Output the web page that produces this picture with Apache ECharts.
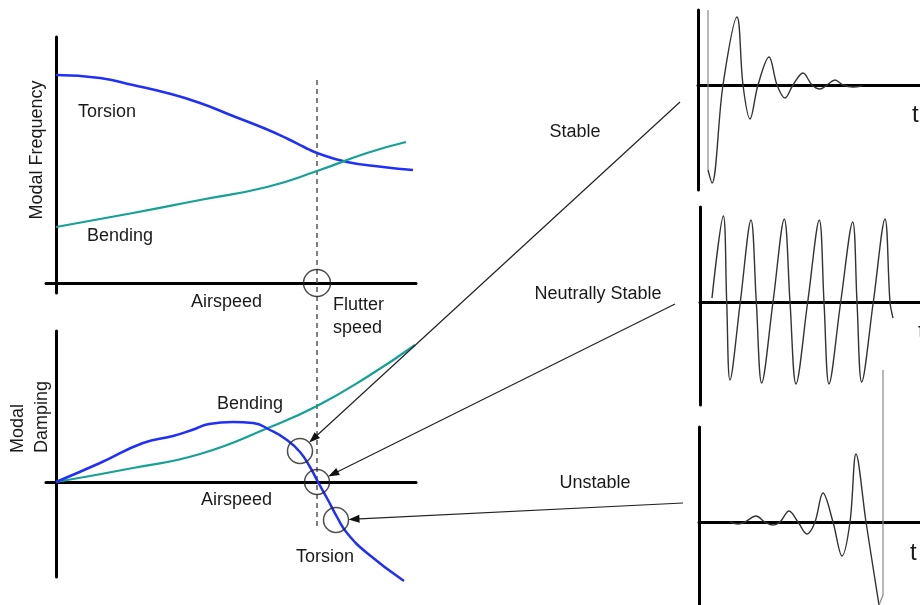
<!DOCTYPE html>
<html><head><meta charset="utf-8">
<script src="https://cdn.jsdelivr.net/npm/echarts@6/dist/echarts.min.js"></script>
<style>html,body{margin:0;padding:0;background:#fff}#c{width:920px;height:605px}</style>
</head><body><div id="c"></div>
<script>
// ---- data (airspeed units / arbitrary response units) ----
const flutterSpeed = 26.1;
const freqTorsion = [[0,20.8],[4.4,20.5],[7.7,19.8],[11.1,19.0],[14.4,18.0],[17.7,16.7],[21.0,15.4],[23.2,14.4],[24.8,13.6],[26.1,13.0],[29.1,12.1],[32.7,11.6],[35.7,11.3]];
const freqBending = [[0,5.6],[7.7,7.0],[14.4,8.3],[21.1,9.6],[26.1,11.2],[31.1,13.0],[35.0,14.1]];
const dampBending = [[0,0],[7.7,1.4],[14.4,2.8],[21.2,5.4],[26.1,7.6],[31.1,10.5],[35.9,13.7]];
const dampTorsion = [[0,0],[4.4,1.9],[8.7,3.9],[11.7,4.6],[13.6,5.2],[15.3,5.8],[17.7,6.0],[19.7,5.9],[21.4,5.2],[23.1,4.2],[24.4,3.0],[25.4,1.5],[26.2,0],[27.2,-1.8],[28.1,-3.5],[29.1,-5.1],[31.1,-7.1],[34.8,-9.9]];
const freqMarker = [[26.1,0]];
const dampMarkers = [[24.4,3.1],[26.1,0],[28.0,-3.8]];
const stableStart = [[1.0,7.5],[1.0,-8.5]];
const stableSignal = [[1.0,-8.5],[1.4,-9.8],[2.5,0],[3.9,6.8],[4.5,0],[5.2,-3.4],[6.0,0],[7.1,2.8],[7.9,0],[8.7,-1.3],[9.5,0],[10.5,1.2],[11.4,0],[12.2,-0.4],[12.9,0],[13.7,0.5],[14.5,0],[15.5,-0.2],[16.4,-0.1]];
const neutralSignal = [[1.2,0.4],[2.33,8.6],[2.67,0],[3.0,-7.8],[4.03,0],[5.1,8.2],[5.63,0],[6.17,-8.1],[7.3,0],[8.43,8.3],[9.0,0],[9.6,-8.2],[10.77,0],[11.93,8.2],[12.4,0],[12.9,-8.2],[14.07,0],[15.27,8.0],[15.7,0],[16.17,-8.0],[17.33,0],[18.5,8.3],[19.0,0],[19.3,-1.6]];
const unstableSignal = [[3.1,0],[3.9,-0.2],[4.6,0],[5.7,0.6],[6.6,0],[7.4,-0.3],[8.1,0],[9.0,1.1],[9.9,0],[10.8,-1.2],[11.6,0],[12.4,2.9],[13.4,0],[14.3,-3.4],[15.1,0],[15.7,6.8],[16.7,0],[18.0,-8.3]];
const unstableEnd = [[18.0,-8.3],[18.4,-7.3],[18.4,15.2]];
const labels = ['Torsion','Bending','Airspeed','Flutter','speed','Modal Frequency','Modal','Damping','Stable','Neutrally Stable','Unstable','t'];

const FONT = '"Liberation Sans", Arial, sans-serif';
const BLUE = '#2030f5', TEAL = '#17a096', INK = '#1a1a1a';
const chart = echarts.init(document.getElementById('c'));

const grids = [
  {left:46, top:37, width:370, height:256},
  {left:46, top:331, width:370, height:246},
  {left:698, top:10, width:222, height:180},
  {left:700, top:207, width:220, height:198},
  {left:699, top:427, width:221, height:178}
];
const xr = [[-1,36],[-1,36],[0,22.2],[0,22],[0,22.1]];
const yr = [[-1,24.6],[-9.5,15.1],[-10.5,7.5],[-10.3,9.5],[-8.3,9.5]];
const axLine = {show:true, onZero:true, lineStyle:{color:'#000', width:3}};
const bare = {axisTick:{show:false}, axisLabel:{show:false}, splitLine:{show:false}};

function line(data, gi, color, width, extra) {
  return Object.assign({type:'line', data, xAxisIndex:gi, yAxisIndex:gi, showSymbol:false, symbol:'none',
    lineStyle:{color, width}, clip:false, silent:true, z:3}, extra||{});
}
function rings(data, gi, size) {
  return {type:'scatter', data, xAxisIndex:gi, yAxisIndex:gi, symbol:'circle', symbolSize:size,
    itemStyle:{color:'rgba(0,0,0,0)', borderColor:'#222', borderWidth:1.5}, silent:true, z:4};
}

chart.setOption({
  animation:false,
  backgroundColor:'#fff',
  grid: grids.map(g => Object.assign({containLabel:false, show:false}, g)),
  xAxis: grids.map((g,i) => Object.assign({type:'value', gridIndex:i, min:xr[i][0], max:xr[i][1], axisLine:axLine}, bare)),
  yAxis: grids.map((g,i) => Object.assign({type:'value', gridIndex:i, min:yr[i][0], max:yr[i][1], axisLine:axLine}, bare)),
  series: [
    line(freqTorsion, 0, BLUE, 2.5, {smooth:0.5}),
    line(freqBending, 0, TEAL, 2.2, {smooth:0.5}),
    line(dampBending, 1, TEAL, 2.2, {smooth:0.5}),
    line(dampTorsion, 1, BLUE, 2.5, {smooth:0.5}),
    rings(freqMarker, 0, 27),
    rings(dampMarkers, 1, 25),
    line(stableStart, 2, '#888', 1.2),
    line(stableSignal, 2, '#333', 1.4, {smooth:0.35}),
    line(neutralSignal, 3, '#333', 1.4, {smooth:0.35}),
    line(unstableSignal, 4, '#333', 1.4, {smooth:0.35}),
    line(unstableEnd, 4, '#888', 1.2)
  ]
});

function txt(s, x, y, opt) {
  opt = opt || {};
  return {type:'text', x, y, rotation:opt.rot||0, z:10, silent:true,
    style:{text:s, fill:opt.fill||INK, font:(opt.size||18)+'px '+FONT,
      textAlign:opt.align||'left', textVerticalAlign:'middle'}};
}
const g = [];
g.push(txt(labels[0], 78, 112));
g.push(txt(labels[1], 87, 236));
g.push(txt(labels[2], 191, 302));
g.push(txt(labels[3], 333, 305));
g.push(txt(labels[4], 333, 328));
g.push(txt(labels[5], 37, 150, {rot:Math.PI/2, align:'center'}));
g.push(txt(labels[6], 18, 453, {rot:Math.PI/2}));
g.push(txt(labels[7], 42, 453, {rot:Math.PI/2}));
g.push(txt(labels[1], 217, 404));
g.push(txt(labels[2], 201, 500));
g.push(txt(labels[0], 296, 557));
g.push(txt(labels[8], 575, 132, {align:'center'}));
g.push(txt(labels[9], 598, 294, {align:'center'}));
g.push(txt(labels[10], 595, 483, {align:'center'}));
g.push(txt(labels[11], 912, 115, {size:24}));
g.push(txt(labels[11], 918, 332, {size:24}));
g.push(txt(labels[11], 910, 553, {size:24}));

// flutter speed dashed line spanning both left panels
const dTop = chart.convertToPixel({gridIndex:0}, [flutterSpeed, 20.3]);
const dBot = chart.convertToPixel({gridIndex:1}, [flutterSpeed, -4.8]);
g.push({type:'line', silent:true, z:2, shape:{x1:dTop[0], y1:dTop[1], x2:dBot[0], y2:dBot[1]},
  style:{stroke:'#555', lineWidth:1.5, lineDash:[5,4]}});

// arrows from state labels to damping markers
const tails = [[680,102],[675,304],[683,503]];
dampMarkers.forEach((m, i) => {
  const c = chart.convertToPixel({gridIndex:1}, m);
  const t = tails[i];
  const dx = t[0]-c[0], dy = t[1]-c[1], L = Math.hypot(dx,dy);
  const ux = dx/L, uy = dy/L;
  const tip = [c[0]+12.5*ux, c[1]+12.5*uy];
  g.push({type:'line', silent:true, z:5, shape:{x1:t[0], y1:t[1], x2:tip[0]+6*ux, y2:tip[1]+6*uy},
    style:{stroke:'#222', lineWidth:1.2}});
  const bx = tip[0]+11*ux, by = tip[1]+11*uy, nx = -uy, ny = ux;
  g.push({type:'polygon', silent:true, z:5, shape:{points:[[tip[0],tip[1]],[bx+4*nx,by+4*ny],[bx-4*nx,by-4*ny]]},
    style:{fill:'#111'}});
});
chart.setOption({graphic: g});
</script></body></html>
